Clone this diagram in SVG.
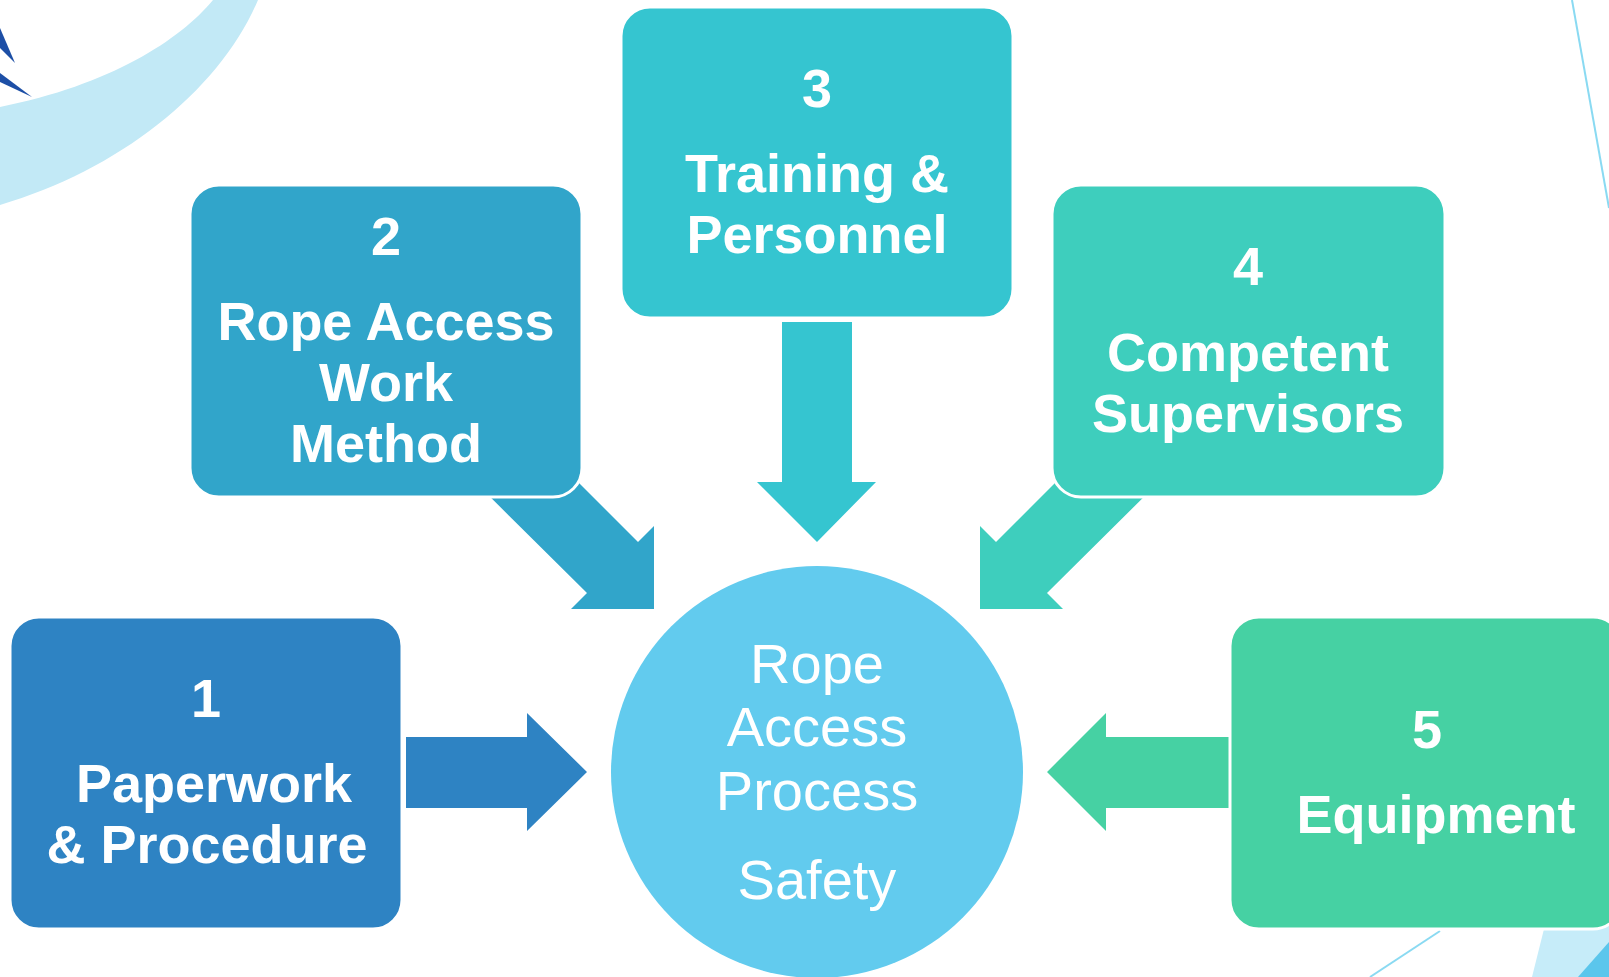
<svg xmlns="http://www.w3.org/2000/svg" width="1609" height="977" viewBox="0 0 1609 977">
<style>
.box{stroke:#ffffff;stroke-width:3}
.t{font-family:"Liberation Sans",Arial,sans-serif;font-weight:700;font-size:54px;fill:#ffffff;text-anchor:middle}
.c{font-family:"Liberation Sans",Arial,sans-serif;font-weight:400;font-size:56px;fill:#ffffff;text-anchor:middle}
</style>
<rect width="1609" height="977" fill="#ffffff"/>
<g id="decoration">
<path d="M213,0 L258,0 C220,90 120,170 0,205 L0,107 C110,85 180,40 213,0 Z" fill="#C2E9F6"/>
<polygon points="0,28 0,48 15,63" fill="#1D4FA6"/>
<polygon points="0,73 0,82 32,97" fill="#1D4FA6"/>
<line x1="1572" y1="0" x2="1609" y2="208" stroke="#8ADAF2" stroke-width="2"/>
<line x1="1440" y1="931" x2="1370" y2="977" stroke="#8ADAF2" stroke-width="2"/>
<polygon points="1545,925 1532,977 1609,977 1609,925" fill="#C6ECF9"/>
<polygon points="1578,977 1609,977 1609,942" fill="#5BC6EC"/>
</g>
<g id="connectors">
<polygon points="406,737 527,737 527,713 587,772 527,831 527,808 406,808" fill="#2E83C3"/>
<polygon points="466.5,473.5 518,422 638,542 654,526 654,609 571,609 587,593" fill="#31A5CA"/>
<polygon points="782,322 852,322 852,482 876,482 817,542 757,482 782,482" fill="#35C5D0"/>
<polygon points="1167.5,473.5 1116,422 996,542 980,526 980,609 1063,609 1047,593" fill="#3ECEBD"/>
<polygon points="1229,737 1106,737 1106,713 1047,772 1106,831 1106,808 1229,808" fill="#46D1A3"/>
</g>
<g id="node-center">
<circle cx="817" cy="772" r="206" fill="#62CBEE"/>
<text class="c" x="817" y="683">Rope</text>
<text class="c" x="817" y="746">Access</text>
<text class="c" x="817" y="810">Process</text>
<text class="c" x="817" y="899">Safety</text>
</g>
<g id="node-1">
<rect class="box" x="10" y="617" width="392" height="312" rx="29" fill="#2E83C3"/>
<text class="t" x="206" y="717">1</text>
<text class="t" x="214" y="802">Paperwork</text>
<text class="t" x="207" y="863">&amp; Procedure</text>
</g>
<g id="node-2">
<rect class="box" x="190" y="185" width="392" height="312" rx="29" fill="#31A5CA"/>
<text class="t" x="386" y="255">2</text>
<text class="t" x="386" y="340">Rope Access</text>
<text class="t" x="386" y="401">Work</text>
<text class="t" x="386" y="462">Method</text>
</g>
<g id="node-3">
<rect class="box" x="621" y="7" width="392" height="311" rx="29" fill="#35C5D0"/>
<text class="t" x="817" y="107">3</text>
<text class="t" x="817" y="192">Training &amp;</text>
<text class="t" x="817" y="253">Personnel</text>
</g>
<g id="node-4">
<rect class="box" x="1052" y="185" width="393" height="312" rx="29" fill="#3ECEBD"/>
<text class="t" x="1248" y="285">4</text>
<text class="t" x="1248" y="371">Competent</text>
<text class="t" x="1248" y="432">Supervisors</text>
</g>
<g id="node-5">
<rect class="box" x="1230" y="617" width="392" height="312" rx="29" fill="#46D1A3"/>
<text class="t" x="1427" y="748">5</text>
<text class="t" x="1436" y="833">Equipment</text>
</g>
</svg>
